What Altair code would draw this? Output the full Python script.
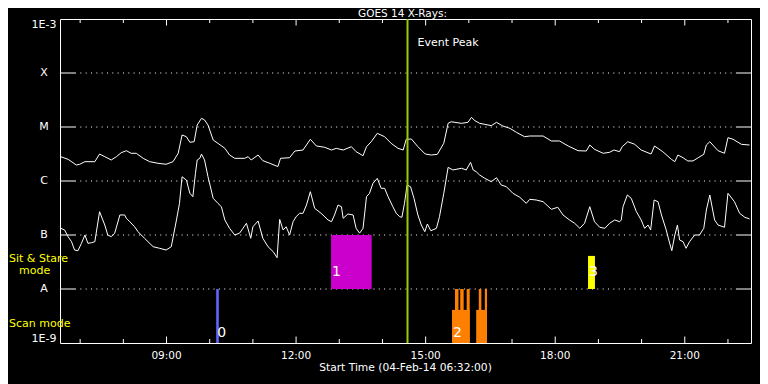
import altair as alt
import pandas as pd

# ---------------- data ----------------
DAY = "2014-02-04"
START_HOUR = 6 + 32 / 60.0
END_HOUR = 22 + 32 / 60.0

# GOES 14 long channel (1-8 A), UT hour / flux W m^-2
long_hours = [
    6.55, 6.72, 6.91, 6.99, 7.11, 7.34, 7.45, 7.57, 7.72, 7.84,
    7.95, 8.07, 8.18, 8.30, 8.46, 8.61, 8.80, 8.99, 9.15, 9.27,
    9.36, 9.46, 9.54, 9.64, 9.71, 9.81, 9.88, 9.96, 10.08, 10.19,
    10.35, 10.46, 10.58, 10.81, 10.89, 10.96, 11.12, 11.23, 11.39, 11.54,
    11.58, 11.64, 11.85, 11.97, 12.16, 12.33, 12.47, 12.66, 12.82, 12.93,
    13.09, 13.28, 13.39, 13.55, 13.63, 13.74, 13.88, 14.05, 14.20, 14.36,
    14.48, 14.55, 14.67, 14.82, 14.99, 15.13, 15.27, 15.42, 15.52, 15.59,
    15.83, 15.98, 16.06, 16.14, 16.25, 16.37, 16.52, 16.64, 16.79, 16.95,
    17.10, 17.29, 17.41, 17.72, 17.91, 18.10, 18.30, 18.53, 18.72, 18.80,
    18.91, 19.11, 19.26, 19.36, 19.49, 19.55, 19.68, 19.84, 19.99, 20.22,
    20.30, 20.49, 20.69, 20.77, 20.84, 20.96, 21.07, 21.19, 21.31, 21.44,
    21.50, 21.58, 21.77, 21.92, 22.00, 22.12, 22.31, 22.50,
]
long_flux = [
    2.82e-6, 2.52e-6, 1.98e-6, 2.04e-6, 2.28e-6, 2.28e-6, 3.16e-6, 2.82e-6, 2.45e-6, 2.82e-6,
    3.34e-6, 3.64e-6, 3.26e-6, 3.26e-6, 2.63e-6, 2.28e-6, 2.13e-6, 2.04e-6, 2.28e-6, 3.26e-6,
    7.11e-6, 6.61e-6, 5.21e-6, 5.34e-6, 1.09e-5, 1.45e-5, 1.35e-5, 1.09e-5, 5.74e-6, 4.99e-6,
    4.03e-6, 3.03e-6, 2.63e-6, 2.63e-6, 2.82e-6, 2.45e-6, 3.03e-6, 2.38e-6, 2.13e-6, 1.90e-6,
    1.86e-6, 2.63e-6, 2.70e-6, 3.59e-6, 3.75e-6, 5.92e-6, 4.45e-6, 4.21e-6, 3.75e-6, 4.03e-6,
    3.75e-6, 4.32e-6, 3.49e-6, 2.94e-6, 4.32e-6, 5.34e-6, 7.64e-6, 6.61e-6, 4.99e-6, 4.03e-6,
    3.75e-6, 5.92e-6, 5.99e-6, 4.32e-6, 3.16e-6, 3.03e-6, 3.12e-6, 4.99e-6, 1.17e-5, 1.25e-5,
    1.17e-5, 1.22e-5, 1.51e-5, 1.31e-5, 1.17e-5, 1.12e-5, 1.06e-5, 1.22e-5, 1.04e-5, 9.46e-6,
    7.97e-6, 6.61e-6, 6.81e-6, 6.81e-6, 5.51e-6, 5.51e-6, 4.45e-6, 3.64e-6, 3.59e-6, 4.64e-6,
    3.86e-6, 3.26e-6, 3.40e-6, 3.75e-6, 3.49e-6, 4.32e-6, 5.34e-6, 4.78e-6, 3.75e-6, 3.16e-6,
    4.45e-6, 3.49e-6, 2.52e-6, 2.28e-6, 3.03e-6, 2.70e-6, 2.35e-6, 2.35e-6, 2.70e-6, 3.12e-6,
    4.64e-6, 5.34e-6, 3.64e-6, 3.26e-6, 6.34e-6, 5.92e-6, 4.78e-6, 4.64e-6,
]

# GOES 14 short channel (0.5-4 A)
short_hours = [
    6.55, 6.64, 6.72, 6.80, 6.87, 6.95, 7.03, 7.11, 7.18, 7.26,
    7.34, 7.45, 7.57, 7.64, 7.72, 7.80, 7.92, 8.03, 8.07, 8.15,
    8.26, 8.34, 8.49, 8.69, 8.84, 8.99, 9.11, 9.23, 9.30, 9.36,
    9.46, 9.54, 9.61, 9.67, 9.71, 9.77, 9.81, 9.88, 9.96, 10.08,
    10.19, 10.27, 10.35, 10.46, 10.58, 10.69, 10.77, 10.85, 10.95, 11.00,
    11.12, 11.23, 11.35, 11.47, 11.56, 11.62, 11.70, 11.77, 11.85, 11.93,
    12.00, 12.08, 12.16, 12.24, 12.33, 12.43, 12.58, 12.74, 12.82, 12.89,
    12.97, 13.05, 13.09, 13.20, 13.32, 13.39, 13.47, 13.55, 13.63, 13.70,
    13.78, 13.88, 13.97, 14.05, 14.13, 14.24, 14.32, 14.40, 14.45, 14.51,
    14.57, 14.65, 14.73, 14.82, 14.90, 14.98, 15.04, 15.12, 15.25, 15.32,
    15.42, 15.52, 15.63, 15.83, 15.94, 16.04, 16.10, 16.17, 16.25, 16.37,
    16.52, 16.64, 16.75, 16.87, 17.02, 17.18, 17.33, 17.41, 17.56, 17.72,
    17.91, 18.06, 18.18, 18.33, 18.45, 18.57, 18.68, 18.80, 18.91, 19.03,
    19.15, 19.26, 19.38, 19.49, 19.53, 19.57, 19.67, 19.76, 19.88, 19.99,
    20.07, 20.15, 20.21, 20.29, 20.38, 20.46, 20.57, 20.65, 20.70, 20.77,
    20.83, 20.88, 20.96, 21.03, 21.11, 21.23, 21.34, 21.44, 21.50, 21.58,
    21.69, 21.77, 21.92, 22.00, 22.15, 22.27, 22.39, 22.50,
]
short_flux = [
    1.33e-7, 1.24e-7, 9.3e-8, 7.52e-8, 5.27e-8, 5.12e-8, 7.02e-8, 1.0e-7, 7.02e-8, 7.2e-8,
    7.52e-8, 2.70e-7, 1.53e-7, 1.0e-7, 9.3e-8, 1.08e-7, 2.35e-7, 2.35e-7, 2.04e-7, 1.76e-7,
    1.42e-7, 1.15e-7, 8.69e-8, 6.07e-8, 5.67e-8, 5.27e-8, 6.07e-8, 1.90e-7, 3.86e-7, 1.20e-6,
    1.04e-6, 5.92e-7, 5.12e-7, 1.39e-6, 2.45e-6, 2.63e-6, 3.16e-6, 2.45e-6, 1.20e-6, 4.78e-7,
    3.86e-7, 3.34e-7, 1.90e-7, 1.33e-7, 1.0e-7, 1.08e-7, 1.33e-7, 1.65e-7, 8.69e-8, 1.42e-7,
    1.82e-7, 8.69e-8, 6.07e-8, 4.91e-8, 3.80e-8, 1.95e-7, 1.24e-7, 1.42e-7, 1.0e-7, 1.76e-7,
    2.18e-7, 2.52e-7, 2.52e-7, 3.59e-7, 6.34e-7, 3.12e-7, 2.52e-7, 1.90e-7, 1.76e-7, 2.35e-7,
    3.59e-7, 3.34e-7, 2.04e-7, 2.45e-7, 2.35e-7, 1.33e-7, 1.08e-7, 1.33e-7, 5.12e-7, 5.92e-7,
    9.06e-7, 1.12e-6, 7.32e-7, 7.32e-7, 5.12e-7, 3.34e-7, 2.52e-7, 2.18e-7, 2.13e-7, 3.86e-7,
    8.43e-7, 7.84e-7, 4.78e-7, 2.35e-7, 1.53e-7, 1.15e-7, 1.60e-7, 1.20e-7, 1.33e-7, 2.18e-7,
    5.92e-7, 1.79e-6, 1.60e-6, 1.72e-6, 1.60e-6, 2.22e-6, 1.60e-6, 1.49e-6, 1.29e-6, 1.12e-6,
    9.70e-7, 1.15e-6, 8.43e-7, 7.84e-7, 5.92e-7, 4.99e-7, 3.86e-7, 4.58e-7, 4.45e-7, 4.14e-7,
    2.99e-7, 3.26e-7, 2.35e-7, 1.90e-7, 1.65e-7, 1.33e-7, 1.65e-7, 3.34e-7, 1.76e-7, 1.39e-7,
    1.33e-7, 1.65e-7, 1.90e-7, 1.76e-7, 1.90e-7, 3.34e-7, 5.51e-7, 4.78e-7, 2.70e-7, 1.90e-7,
    1.33e-7, 1.53e-7, 1.24e-7, 4.45e-7, 4.14e-7, 2.35e-7, 1.24e-7, 7.02e-8, 5.12e-8, 1.0e-7,
    1.53e-7, 8.08e-8, 7.52e-8, 5.67e-8, 7.52e-8, 1.0e-7, 1.0e-7, 1.33e-7, 2.90e-7, 5.51e-7,
    1.90e-7, 1.53e-7, 1.39e-7, 5.92e-7, 4.14e-7, 2.52e-7, 2.13e-7, 1.98e-7,
]

# observation bars (scan mode / sit & stare)
bar_start = [10.15, 12.81, 15.61, 16.17, 15.68, 15.80, 15.95, 16.23, 16.37, 18.76]
bar_end = [10.21, 13.75, 16.02, 16.42, 15.76, 15.88, 16.02, 16.29, 16.42, 18.92]
bar_low = [1e-9, 1e-8, 1e-9, 1e-9, 1e-9, 1e-9, 1e-9, 1e-9, 1e-9, 1e-8]
bar_high = [1e-8, 1e-7, 4.1e-9, 4.1e-9, 1e-8, 1e-8, 1e-8, 1e-8, 1e-8, 4.1e-8]
bar_color = ["#6464FF", "#CC00CC", "#FF8000", "#FF8000", "#FF8000", "#FF8000",
             "#FF8000", "#FF8000", "#FF8000", "#FFFF00"]

bar_label_text = ["0", "1", "2", "3"]
bar_label_hour = [10.15, 12.81, 15.61, 18.76]
bar_label_flux = [1.53e-9, 2.09e-8, 1.53e-9, 2.09e-8]

event_peak_hour = 14.58
event_label_flux = 3.6e-4

inner_decades = [1e-8, 1e-7, 1e-6, 1e-5, 1e-4]
inner_labels = ["A", "B", "C", "M", "X"]
top_label, bottom_label = "1E-3", "1E-9"
top_value, bottom_value = 1e-3, 1e-9

tick_hours = list(range(7, 23))
major_hours = [9, 12, 15, 18, 21]
major_labels = ["09:00", "12:00", "15:00", "18:00", "21:00"]
minor_hours = [h for h in tick_hours if h not in major_hours]

title_text = "GOES 14 X-Rays:"
x_title = "Start Time (04-Feb-14 06:32:00)"

# ---------------- chart ----------------
FONT = "DejaVu Sans"
W, H = 691, 324            # plot area
PAD = {"left": 52, "top": 11, "right": 9, "bottom": 41}   # whole view 752 x 376
BASE_MS = pd.Timestamp(DAY, tz="UTC").value // 10**6


def ms(h):
    return BASE_MS + h * 3600000.0


x_scale = alt.Scale(type="utc", domain=[ms(START_HOUR), ms(END_HOUR)], nice=False)
y_scale = alt.Scale(type="log", domain=[1e-9, 1e-3], nice=False)


def XT(f="t"):
    return alt.X(f + ":T", scale=x_scale, axis=None)


def YF(f="flux"):
    return alt.Y(f + ":Q", scale=y_scale, axis=None)


curves = pd.DataFrame({
    "t": [ms(h) for h in long_hours] + [ms(h) for h in short_hours],
    "flux": long_flux + short_flux,
    "band": ["long"] * len(long_hours) + ["short"] * len(short_hours),
})

lines = alt.Chart(curves).mark_line(color="white", strokeWidth=1).encode(
    x=XT(), y=YF(), detail="band:N")

dec_df = pd.DataFrame({"flux": inner_decades, "txt": inner_labels})
grid = alt.Chart(dec_df).mark_rule(color="white", strokeWidth=1, strokeDash=[1, 4.33]).encode(
    y=YF(), x=alt.value(15), x2=alt.value(W - 15))
lticks = alt.Chart(dec_df).mark_rule(color="white", strokeWidth=1).encode(
    y=YF(), x=alt.value(0), x2=alt.value(15))
rticks = alt.Chart(dec_df).mark_rule(color="white", strokeWidth=1).encode(
    y=YF(), x=alt.value(W - 15), x2=alt.value(W))

txt_style = dict(color="white", font=FONT)
ylab_mid = alt.Chart(dec_df).mark_text(align="center", baseline="middle", fontSize=11, **txt_style).encode(
    x=alt.value(-16), y=YF(), text="txt:N")
ylab_top = alt.Chart(pd.DataFrame({"flux": [top_value], "txt": [top_label]})).mark_text(
    align="center", baseline="top", fontSize=11, **txt_style).encode(
    x=alt.value(-16), y=YF(), text="txt:N")
ylab_bot = alt.Chart(pd.DataFrame({"flux": [bottom_value], "txt": [bottom_label]})).mark_text(
    align="center", baseline="bottom", fontSize=11, dy=1, **txt_style).encode(
    x=alt.value(-16), y=YF(), text="txt:N")

maj_df = pd.DataFrame({"t": [ms(h) for h in major_hours], "txt": major_labels})
min_df = pd.DataFrame({"t": [ms(h) for h in minor_hours]})


def hour_ticks(df, length):
    top = alt.Chart(df).mark_rule(color="white", strokeWidth=1).encode(
        x=XT(), y=alt.value(0), y2=alt.value(length))
    bot = alt.Chart(df).mark_rule(color="white", strokeWidth=1).encode(
        x=XT(), y=alt.value(H), y2=alt.value(H - length))
    return [top, bot]


xlab = alt.Chart(maj_df).mark_text(align="center", baseline="middle", fontSize=10.5, **txt_style).encode(
    x=XT(), y=alt.value(H + 12.5), text="txt:N")

bars_df = pd.DataFrame({
    "t0": [ms(h) for h in bar_start], "t1": [ms(h) for h in bar_end],
    "lo": bar_low, "hi": bar_high, "color": bar_color,
})
bars = alt.Chart(bars_df).mark_rect().encode(
    x=XT("t0"), x2="t1:T", y=YF("lo"), y2="hi:Q",
    color=alt.Color("color:N", scale=None),
)

blabels = alt.Chart(pd.DataFrame({
    "t": [ms(h) for h in bar_label_hour], "flux": bar_label_flux, "txt": bar_label_text,
})).mark_text(align="left", baseline="middle", fontSize=14, dx=1, **txt_style).encode(
    x=XT(), y=YF(), text="txt:N")

peak_df = pd.DataFrame({"t": [ms(event_peak_hour)], "flux": [event_label_flux], "txt": ["Event Peak"]})
peak = alt.Chart(peak_df).mark_rule(color="#99CC00", strokeWidth=2).encode(x=XT())
peak_txt = alt.Chart(peak_df).mark_text(
    align="left", baseline="middle", dx=10, fontSize=11, **txt_style).encode(
    x=XT(), y=YF(), text="txt:N")

yellow = dict(color="#FFFF00", font=FONT, fontSize=11)
side1 = alt.Chart(pd.DataFrame({"flux": [3.59e-8, 2.25e-9], "txt": ["Sit & Stare", "Scan mode"]})).mark_text(
    align="left", baseline="middle", **yellow).encode(
    x=alt.value(-51), y=YF(), text="txt:N")
side2 = alt.Chart(pd.DataFrame({"flux": [2.15e-8], "txt": ["mode"]})).mark_text(
    align="left", baseline="middle", **yellow).encode(
    x=alt.value(-41), y=YF(), text="txt:N")

titles = alt.Chart(pd.DataFrame({"txt": [title_text]})).mark_text(
    align="center", baseline="alphabetic", fontSize=10.5, **txt_style).encode(
    x=alt.value(W / 2 - 3), y=alt.value(-2.5), text="txt:N")
xtitle = alt.Chart(pd.DataFrame({"txt": [x_title]})).mark_text(
    align="center", baseline="middle", fontSize=10.7, **txt_style).encode(
    x=alt.value(W / 2), y=alt.value(H + 24.5), text="txt:N")

layers = [grid, lticks, rticks] + hour_ticks(maj_df, 6.5) + hour_ticks(min_df, 4) + [
    bars, lines, peak, peak_txt, blabels, side1, side2,
    ylab_mid, ylab_top, ylab_bot, xlab, titles, xtitle]

chart = alt.layer(*layers).properties(
    width=W, height=H,
    background="black",
    padding=PAD,
    autosize=alt.AutoSizeParams(type="none"),
    usermeta={"embedOptions": {"defaultStyle": "html,body{background:#000}"}},
).configure_view(stroke="white", strokeWidth=1)

chart.save("out.html", embed_options={"renderer": "svg", "actions": False})
